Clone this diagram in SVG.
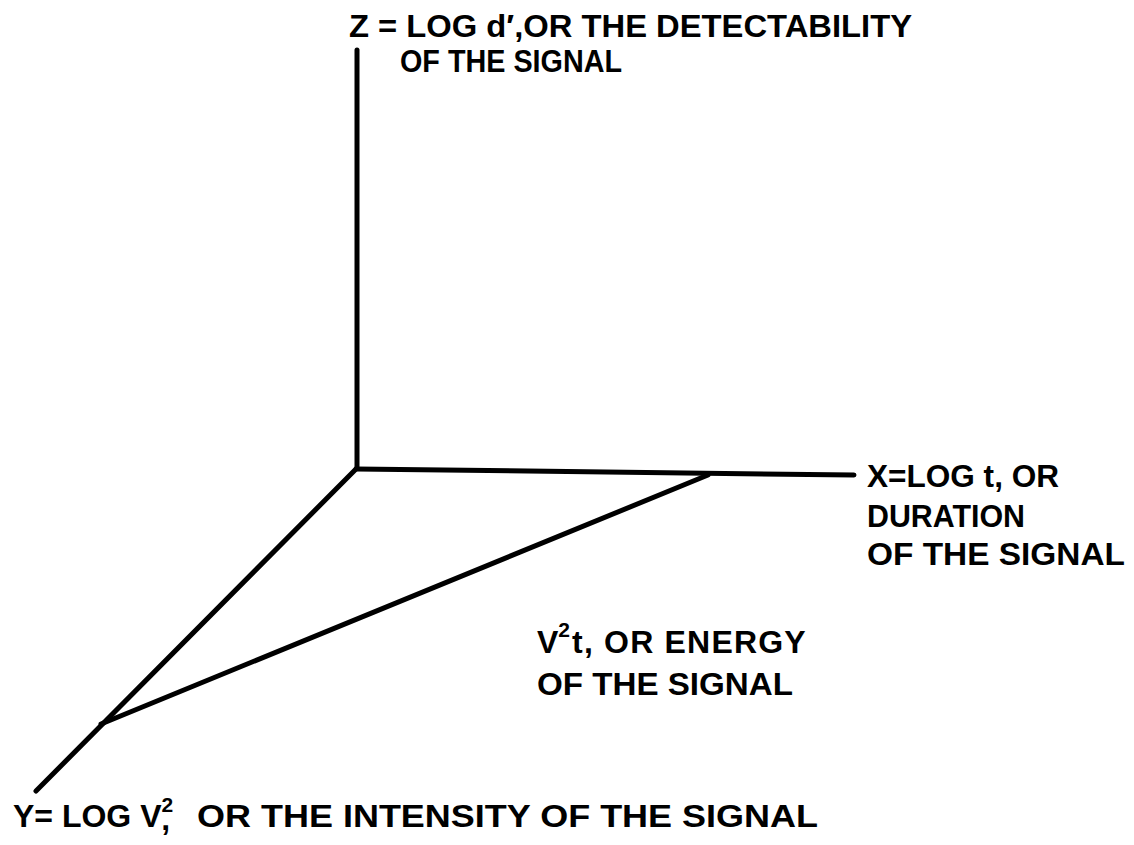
<svg xmlns="http://www.w3.org/2000/svg" width="1134" height="845" viewBox="0 0 1134 845">
<style>
.ax{stroke:#000;stroke-width:5;stroke-linecap:round;fill:none}
.t{font-family:"Liberation Sans",Arial,sans-serif;font-weight:bold;font-size:32px;fill:#000}
.s{font-family:"Liberation Sans",Arial,sans-serif;font-weight:bold;font-size:21px;fill:#000}
</style>
<rect width="1134" height="845" fill="#fff"/>
<g id="connectors">
<line class="ax" x1="357" y1="50" x2="357" y2="468"/>
<line class="ax" x1="356" y1="469" x2="854" y2="475"/>
<line class="ax" x1="356" y1="469" x2="36" y2="791"/>
<line class="ax" x1="708" y1="475" x2="101" y2="724"/>
</g>
<g id="z-label">
<text class="t" x="349" y="37" textLength="563" lengthAdjust="spacingAndGlyphs">Z = LOG d′,OR THE DETECTABILITY</text>
<text class="t" x="400" y="72" textLength="222" lengthAdjust="spacingAndGlyphs">OF THE SIGNAL</text>
</g>
<g id="x-label">
<text class="t" x="867" y="487" textLength="192" lengthAdjust="spacingAndGlyphs">X=LOG t, OR</text>
<text class="t" x="867" y="527" textLength="158" lengthAdjust="spacingAndGlyphs">DURATION</text>
<text class="t" x="867" y="565" textLength="258" lengthAdjust="spacingAndGlyphs">OF THE SIGNAL</text>
</g>
<g id="energy-label">
<text class="t" x="537" y="653">V<tspan class="s" dy="-16">2</tspan><tspan dy="16" dx="2" letter-spacing="1.2">t, OR ENERGY</tspan></text>
<text class="t" x="537" y="695" textLength="256" lengthAdjust="spacingAndGlyphs">OF THE SIGNAL</text>
</g>
<g id="y-label">
<text class="t" x="13" y="827" font-size="31">Y= LOG V<tspan class="s" dy="-15">2</tspan><tspan dx="-12" dy="18">,</tspan></text>
<text class="t" x="197" y="827" textLength="621" lengthAdjust="spacingAndGlyphs">OR THE INTENSITY OF THE SIGNAL</text>
</g>
</svg>
